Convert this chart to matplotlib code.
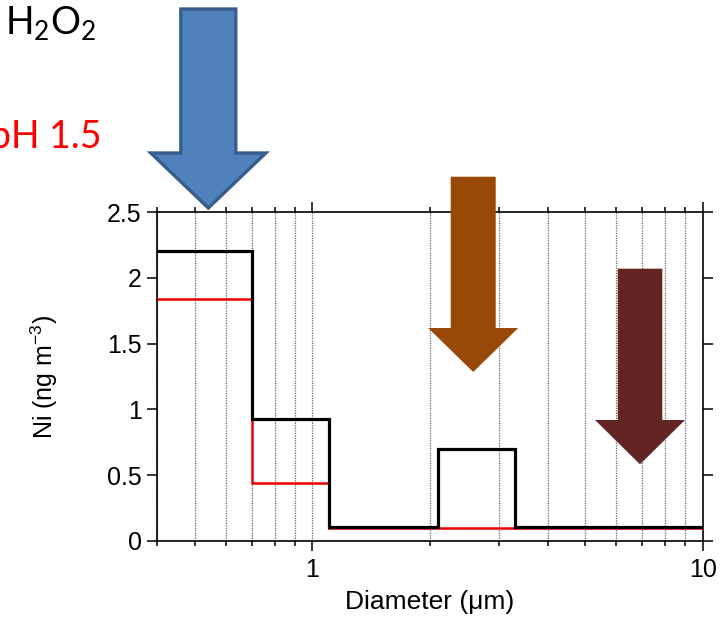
import matplotlib
matplotlib.use("Agg")
import matplotlib.pyplot as plt
from matplotlib.patches import Polygon
from matplotlib.ticker import FixedLocator, NullFormatter, FuncFormatter

plt.rcParams['font.family'] = ['Liberation Sans', 'DejaVu Sans']
plt.rcParams['mathtext.fontset'] = 'custom'
plt.rcParams['mathtext.rm'] = 'Lato'
plt.rcParams['mathtext.sf'] = 'Liberation Sans'

# Size-bin edges (um) and Ni concentrations (ng m-3)
bin_edges = [0.4, 0.7, 1.1, 2.1, 3.3, 10.0]
ni_h2o2 = [2.2, 0.93, 0.11, 0.70, 0.11]
ni_ph15 = [1.84, 0.44, 0.10, 0.10, 0.10]

y_ticks = [0, 0.5, 1, 1.5, 2, 2.5]
x_major = [1, 10]
x_minor = [0.4, 0.5, 0.6, 0.7, 0.8, 0.9, 2, 3, 4, 5, 6, 7, 8, 9]

W, H = 727, 623
fig = plt.figure(figsize=(W / 100, H / 100), dpi=100)
ax = fig.add_axes([157 / W, 1 - 541 / H, (703 - 157) / W, (541 - 212) / H])

ax.set_xscale('log')
ax.set_xlim(0.4, 10)
ax.set_ylim(0, 2.5)

ax.stairs(ni_ph15, bin_edges, baseline=None, color='#ee0000', lw=1.8, zorder=3)
ax.stairs(ni_h2o2, bin_edges, baseline=None, color='black', lw=2.3, zorder=4)

ax.xaxis.set_major_locator(FixedLocator(x_major))
ax.xaxis.set_minor_locator(FixedLocator(x_minor))
ax.xaxis.set_major_formatter(FuncFormatter(lambda v, p: f"{v:g}"))
ax.xaxis.set_minor_formatter(NullFormatter())
ax.yaxis.set_major_locator(FixedLocator(y_ticks))
ax.yaxis.set_major_formatter(FuncFormatter(lambda v, p: f"{v:g}"))

ax.grid(True, axis='x', which='both', linestyle=(0, (1, 1)), color='#666666', lw=0.9)
ax.tick_params(which='both', direction='out', top=True, right=True,
               width=1.1, colors='black', labelsize=18)
ax.tick_params(which='major', length=7, pad=4)
ax.tick_params(which='minor', length=3.8)
ax.tick_params(axis='x', which='major', pad=5)
for s in ax.spines.values():
    s.set_linewidth(1.2)

ax.set_xlabel('Diameter (\u03bcm)', fontsize=19, labelpad=6)
ax.set_ylabel(r'Ni (ng m$^{\mathsf{-3}}$)', fontsize=18, labelpad=34)


def down_arrow(cx, top, head_base, tip, shaft_w, head_w, face, edge=None, lw=0.0):
    pts = [(cx - shaft_w / 2, top), (cx + shaft_w / 2, top),
           (cx + shaft_w / 2, head_base), (cx + head_w / 2, head_base),
           (cx, tip), (cx - head_w / 2, head_base),
           (cx - shaft_w / 2, head_base)]
    pts = [(x / W, 1 - y / H) for x, y in pts]
    fig.add_artist(Polygon(pts, closed=True, transform=fig.transFigure,
                           facecolor=face, edgecolor=edge if edge else face,
                           lw=lw, joinstyle='miter', zorder=10))


down_arrow(208.3, 9, 153, 208, 55, 115, '#4f81bd', '#385d8a', 2.4)
down_arrow(473.2, 176.7, 328, 372, 45, 90, '#984807')
down_arrow(640.0, 268.7, 420, 464.3, 44.6, 90, '#632523')

fig.text(5 / W, 1 - 35 / H, r'H$_{\mathrm{2}}$O$_{\mathrm{2}}$', fontsize=27,
         family='Lato', ha='left', va='baseline', color='black')
fig.text(102 / W, 1 - 148 / H, 'pH 1.5', fontsize=27, family='Lato',
         ha='right', va='baseline', color='#ff0000')

fig.savefig('out.png', dpi=100)
